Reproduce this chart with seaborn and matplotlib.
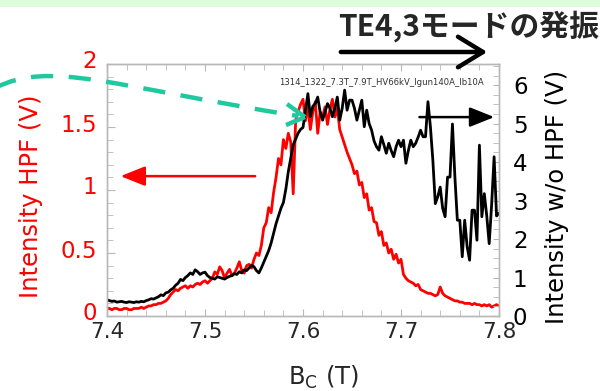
import matplotlib
matplotlib.use('Agg')
import matplotlib.pyplot as plt
import matplotlib.transforms as mtransforms
import seaborn as sns
from matplotlib.path import Path
from matplotlib.patches import FancyArrowPatch, PathPatch, Rectangle
from matplotlib.ticker import MultipleLocator
from matplotlib.lines import Line2D

# magnetic field (T), 7.40 .. 7.80 every 0.0025
b_field = [7.4000, 7.4025, 7.4050, 7.4075, 7.4100, 7.4125, 7.4150, 7.4175, 7.4200, 7.4225,
           7.4250, 7.4275, 7.4300, 7.4325, 7.4350, 7.4375, 7.4400, 7.4425, 7.4450, 7.4475,
           7.4500, 7.4525, 7.4550, 7.4575, 7.4600, 7.4625, 7.4650, 7.4675, 7.4700, 7.4725,
           7.4750, 7.4775, 7.4800, 7.4825, 7.4850, 7.4875, 7.4900, 7.4925, 7.4950, 7.4975,
           7.5000, 7.5025, 7.5050, 7.5075, 7.5100, 7.5125, 7.5150, 7.5175, 7.5200, 7.5225,
           7.5250, 7.5275, 7.5300, 7.5325, 7.5350, 7.5375, 7.5400, 7.5425, 7.5450, 7.5475,
           7.5500, 7.5525, 7.5550, 7.5575, 7.5600, 7.5625, 7.5650, 7.5675, 7.5700, 7.5725,
           7.5750, 7.5775, 7.5800, 7.5825, 7.5850, 7.5875, 7.5900, 7.5925, 7.5950, 7.5975,
           7.6000, 7.6025, 7.6050, 7.6075, 7.6100, 7.6125, 7.6150, 7.6175, 7.6200, 7.6225,
           7.6250, 7.6275, 7.6300, 7.6325, 7.6350, 7.6375, 7.6400, 7.6425, 7.6450, 7.6475,
           7.6500, 7.6525, 7.6550, 7.6575, 7.6600, 7.6625, 7.6650, 7.6675, 7.6700, 7.6725,
           7.6750, 7.6775, 7.6800, 7.6825, 7.6850, 7.6875, 7.6900, 7.6925, 7.6950, 7.6975,
           7.7000, 7.7025, 7.7050, 7.7075, 7.7100, 7.7125, 7.7150, 7.7175, 7.7200, 7.7225,
           7.7250, 7.7275, 7.7300, 7.7325, 7.7350, 7.7375, 7.7400, 7.7425, 7.7450, 7.7475,
           7.7500, 7.7525, 7.7550, 7.7575, 7.7600, 7.7625, 7.7650, 7.7675, 7.7700, 7.7725,
           7.7750, 7.7775, 7.7800, 7.7825, 7.7850, 7.7875, 7.7900, 7.7925, 7.7950, 7.7975,
           7.8000]

# intensity with HPF (V), left axis
hpf = [0.06, 0.06, 0.05, 0.06, 0.06, 0.05, 0.05, 0.06, 0.06, 0.05,
       0.05, 0.06, 0.06, 0.06, 0.07, 0.06, 0.07, 0.08, 0.08, 0.09,
       0.09, 0.10, 0.10, 0.11, 0.12, 0.14, 0.17, 0.19, 0.21, 0.20,
       0.22, 0.23, 0.24, 0.22, 0.24, 0.23, 0.25, 0.26, 0.25, 0.27,
       0.28, 0.26, 0.28, 0.30, 0.35, 0.33, 0.39, 0.36, 0.30, 0.34,
       0.37, 0.32, 0.34, 0.38, 0.43, 0.36, 0.34, 0.40, 0.41, 0.38,
       0.45, 0.50, 0.48, 0.56, 0.70, 0.74, 0.86, 0.82, 0.98, 1.10,
       1.25, 1.20, 1.40, 1.33, 1.45, 1.38, 0.97, 1.55, 1.62, 1.68,
       1.72, 1.55, 1.66, 1.48, 1.62, 1.70, 1.45, 1.62, 1.58, 1.66,
       1.52, 1.64, 1.72, 1.58, 1.65, 1.48, 1.42, 1.36, 1.30, 1.25,
       1.20, 1.13, 1.15, 1.04, 1.06, 0.94, 0.97, 0.84, 0.86, 0.75,
       0.74, 0.64, 0.67, 0.56, 0.58, 0.50, 0.53, 0.45, 0.49, 0.42,
       0.45, 0.33, 0.30, 0.28, 0.27, 0.26, 0.24, 0.25, 0.21, 0.20,
       0.19, 0.18, 0.18, 0.17, 0.16, 0.17, 0.23, 0.18, 0.16, 0.15,
       0.14, 0.13, 0.12, 0.12, 0.11, 0.11, 0.10, 0.10, 0.10, 0.09,
       0.10, 0.09, 0.09, 0.08, 0.09, 0.08, 0.09, 0.07, 0.08, 0.09,
       0.08]

# intensity without HPF (V), right axis
no_hpf = [0.42, 0.40, 0.38, 0.39, 0.36, 0.37, 0.38, 0.36, 0.35, 0.37,
          0.36, 0.35, 0.37, 0.36, 0.38, 0.37, 0.40, 0.42, 0.45, 0.44,
          0.47, 0.50, 0.55, 0.53, 0.60, 0.62, 0.68, 0.72, 0.80, 0.85,
          0.95, 0.92, 1.00, 1.05, 1.12, 1.08, 1.20, 1.15, 1.08, 1.12,
          1.14, 1.05, 1.00, 0.98, 0.96, 1.02, 1.00, 0.98, 0.96, 1.00,
          1.03, 1.05, 1.10, 1.08, 1.15, 1.12, 1.20, 1.18, 1.25, 1.32,
          1.28, 1.18, 1.12, 1.25, 1.40, 1.55, 1.70, 1.90, 2.15, 2.40,
          2.60, 2.80, 2.95, 3.30, 3.75, 4.10, 4.45, 4.60, 4.75, 4.85,
          4.90, 5.35, 5.78, 5.18, 5.45, 5.52, 5.69, 5.30, 5.09, 5.30,
          5.52, 5.40, 5.18, 5.40, 5.69, 5.09, 5.40, 5.87, 5.35, 5.61,
          5.61, 5.40, 5.09, 5.35, 5.61, 4.92, 5.35, 5.00, 4.83, 4.55,
          4.40, 4.31, 4.66, 4.45, 4.23, 4.49, 4.30, 4.14, 4.40, 4.57,
          4.40, 4.57, 3.97, 4.30, 4.57, 4.40, 4.49, 4.65, 4.83, 4.66,
          4.66, 5.57, 4.92, 4.05, 2.92, 3.10, 3.35, 2.80, 2.58, 3.61,
          3.61, 4.99, 3.61, 2.49, 2.49, 1.54, 2.49, 1.80, 1.45, 2.75,
          2.75, 1.97, 4.44, 2.58, 3.18, 2.60, 1.88, 2.90, 4.14, 2.60,
          2.67]

sns.set_style('ticks')
plt.rcParams['font.family'] = ['DejaVu Sans']

W, H = 600, 391
fig = plt.figure(figsize=(6, 3.91), dpi=100)
ax = fig.add_axes([107 / W, 1 - 316 / H, 392 / W, 252 / H])
ax2 = ax.twinx()

sns.lineplot(x=b_field, y=hpf, ax=ax, color='#ff0000', lw=2)
sns.lineplot(x=b_field, y=no_hpf, ax=ax2, color='black', lw=2)

ax.set_xlim(7.4, 7.8)
ax.set_ylim(0, 2)
ax2.set_ylim(0, 6.55)

ax.xaxis.set_major_locator(MultipleLocator(0.1))
ax.xaxis.set_minor_locator(MultipleLocator(0.02))
ax.yaxis.set_major_locator(MultipleLocator(0.5))
ax.yaxis.set_minor_locator(MultipleLocator(0.1))
ax2.yaxis.set_major_locator(MultipleLocator(1))
ax2.yaxis.set_minor_locator(MultipleLocator(0.25))
ax.set_xticks([7.4, 7.5, 7.6, 7.7, 7.8])
ax.set_xticklabels(['7.4', '7.5', '7.6', '7.7', '7.8'])
ax.set_yticks([0, 0.5, 1, 1.5, 2])
ax.set_yticklabels(['0', '0.5', '1', '1.5', '2'])

grey = '#b8b8b8'
for a in (ax, ax2):
    for s in a.spines.values():
        s.set_color(grey)
        s.set_linewidth(1)
ax.tick_params(axis='x', which='both', direction='in', top=True, color=grey,
               labelsize=15.5, pad=4)
ax.tick_params(axis='x', which='major', length=5)
ax.tick_params(axis='x', which='minor', length=4)
ax.tick_params(axis='y', which='both', direction='in', color=grey,
               labelcolor='#ff0000', labelsize=16.5, pad=7)
ax.tick_params(axis='y', which='major', length=6)
ax.tick_params(axis='y', which='minor', length=4)
ax2.tick_params(axis='y', which='both', direction='in', color=grey,
                labelcolor='black', labelsize=16.5, pad=10, length=4)

# left tick labels sit a little higher in the original
lift = mtransforms.ScaledTranslation(0, 0.045, fig.dpi_scale_trans)
for lab in ax.get_yticklabels():
    lab.set_transform(lab.get_transform() + lift)

ax.set_xlabel('B$_\\mathrm{C}$ (T)', fontsize=17.5, va='center')
ax.xaxis.set_label_coords(0.551, -0.245)
ax.set_ylabel('Intensity HPF (V)', fontsize=17.5, color='#ff0000', va='center')
ax.yaxis.set_label_coords(-0.194, 0.476)
ax2.set_ylabel('Intensity w/o HPF (V)', fontsize=17.5, color='black', va='center')
ax2.yaxis.set_label_coords(1.148, 0.474)

ax.text(0.699, 0.927, '1314_1322_7.3T_7.9T_HV66kV_Igun140A_Ib10A',
        transform=ax.transAxes, fontsize=6.1, color='#333333',
        ha='center', va='center')

# red arrow -> left axis
ax.annotate('', xy=(7.411, 1.11), xytext=(7.554, 1.11),
            arrowprops=dict(arrowstyle='-|>,head_length=1.0,head_width=0.4',
                            mutation_scale=15, color='#ff0000', lw=1.8))
# black arrow -> right axis
ax2.annotate('', xy=(7.798, 5.17), xytext=(7.716, 5.17),
             arrowprops=dict(arrowstyle='-|>,head_length=1.0,head_width=0.4',
                             mutation_scale=15, color='black', lw=1.8))


def fc(x, y):
    return (x / W, 1 - y / H)


# green band on top
fig.patches.append(Rectangle((0, 1 - 7 / H), 1, 7 / H, transform=fig.transFigure,
                             facecolor='#dcfcdc', edgecolor='none', zorder=0))

# title and arrow
fig.text(338 / W, 1 - 10 / H, 'TE4,3モードの発振', fontsize=21.5, fontweight='bold',
         family=['Noto Sans CJK JP', 'DejaVu Sans'], ha='left', va='top')
fig.patches.append(FancyArrowPatch(fc(338, 52), fc(490, 52), transform=fig.transFigure,
                                   arrowstyle='->,head_length=0.9,head_width=0.55',
                                   mutation_scale=20, color='black', lw=3.2))

# teal dashed curved arrow
teal = '#20c8a0'
pts = [fc(-5, 88), fc(50, 60), fc(110, 86), fc(298, 116)]
curve = Path(pts, [Path.MOVETO, Path.CURVE4, Path.CURVE4, Path.CURVE4])
fig.patches.append(PathPatch(curve, transform=fig.transFigure, fill=False,
                             edgecolor=teal, lw=3.2, linestyle=(0, (5, 3.5)),
                             zorder=5))
for p in [(287, 104), (286, 125)]:
    fig.lines.append(Line2D([p[0] / W, 305 / W], [1 - p[1] / H, 1 - 117 / H],
                            transform=fig.transFigure, color=teal, lw=3.2,
                            solid_capstyle='butt', zorder=5))

fig.savefig('out.png', dpi=100)
